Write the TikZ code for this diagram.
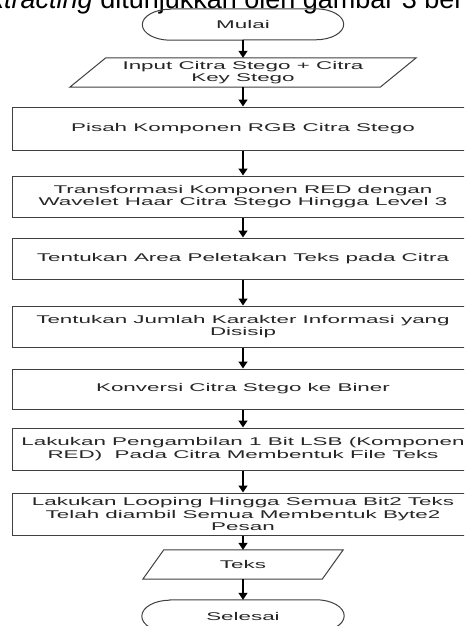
\documentclass[tikz,border=0pt]{standalone}
\usepackage{fontspec}
\setmainfont{Liberation Sans}
\newfontfamily\flowfont[FakeStretch=2.0]{Liberation Sans}
\usetikzlibrary{arrows.meta}
\begin{document}
\begin{tikzpicture}[x=1pt,y=-1pt,
  lbl/.style={font=\flowfont\fontsize{11.2}{12.3}\selectfont, text=black!85, align=center, inner sep=0pt},
  procbox/.style={lbl, draw=black!75, line width=1pt, minimum width=462pt, minimum height=#1},
  flow/.style={draw=black, line width=1.3pt, -{Triangle[width=9pt,length=7pt]}},
  shapeline/.style={draw=black!75, line width=1pt}
]
\useasboundingbox (0,0) rectangle (464,626);
\clip (0,0) rectangle (464,626);
\fill[white] (0,0) rectangle (464,626);

% cut-off line of document text
\node[anchor=base west, font=\fontsize{27}{31}\selectfont, inner sep=0pt, text=black] (head) at (-24.5,9)
  {\textit{extracting} ditunjukkan oleh gambar 3 berikut};

% start terminator
\node[lbl, minimum width=201pt, minimum height=31pt] (mulai) at (243,24.5) {Mulai};
\draw[shapeline] ([xshift=28pt]mulai.north west) -- ([xshift=-28pt]mulai.north east)
  arc[start angle=90, end angle=-90, x radius=28pt, y radius=15.5pt]
  -- ([xshift=28pt]mulai.south west)
  arc[start angle=270, end angle=90, x radius=28pt, y radius=15.5pt] -- cycle;

% input parallelogram
\node[lbl, minimum width=310pt, minimum height=29pt] (inp) at (243,72.5) {Input Citra Stego + Citra\\Key Stego};
\draw[shapeline] ([xshift=18pt]inp.north west) -- ([xshift=18pt]inp.north east)
  -- ([xshift=-18pt]inp.south east) -- ([xshift=-18pt]inp.south west) -- cycle;

% process boxes
\node[procbox=43pt] (b1) at (243,128.5) {Pisah Komponen RGB Citra Stego};
\node[procbox=41pt] (b2) at (243,196.5) {Transformasi Komponen RED dengan\\Wavelet Haar Citra Stego Hingga Level 3};
\node[procbox=41pt] (b3) at (243,258.5) {Tentukan Area Peletakan Teks pada Citra};
\node[procbox=41pt] (b4) at (243,326.5) {Tentukan Jumlah Karakter Informasi yang\\Disisip};
\node[procbox=40pt] (b5) at (243,389) {Konversi Citra Stego ke Biner};
\node[procbox=42pt] (b6) at (243,449) {Lakukan Pengambilan 1 Bit LSB (Komponen\\RED)~ Pada Citra Membentuk File Teks};
\node[procbox=42pt] (b7) at (243,514) {Lakukan Looping Hingga Semua Bit2 Teks\\Telah diambil Semua Membentuk Byte2\\Pesan};

% output parallelogram
\node[lbl, minimum width=179pt, minimum height=29pt] (teks) at (243,564.5) {Teks};
\draw[shapeline] ([xshift=10.5pt]teks.north west) -- ([xshift=10.5pt]teks.north east)
  -- ([xshift=-10.5pt]teks.south east) -- ([xshift=-10.5pt]teks.south west) -- cycle;

% end terminator
\node[lbl, minimum width=202pt, minimum height=32pt] (selesai) at (243,616) {Selesai};
\draw[shapeline] ([xshift=28pt]selesai.north west) -- ([xshift=-28pt]selesai.north east)
  arc[start angle=90, end angle=-90, x radius=28pt, y radius=16pt]
  -- ([xshift=28pt]selesai.south west)
  arc[start angle=270, end angle=90, x radius=28pt, y radius=16pt] -- cycle;

% connectors
\draw[flow] (mulai) -- (inp);
\draw[flow] (inp) -- (b1);
\draw[flow] (b1) -- (b2);
\draw[flow] (b2) -- (b3);
\draw[flow] (b3) -- (b4);
\draw[flow] (b4) -- (b5);
\draw[flow] (b5) -- (b6);
\draw[flow] (b6) -- (b7);
\draw[flow] (b7) -- (teks);
\draw[flow] (teks) -- (selesai);
\end{tikzpicture}
\end{document}
